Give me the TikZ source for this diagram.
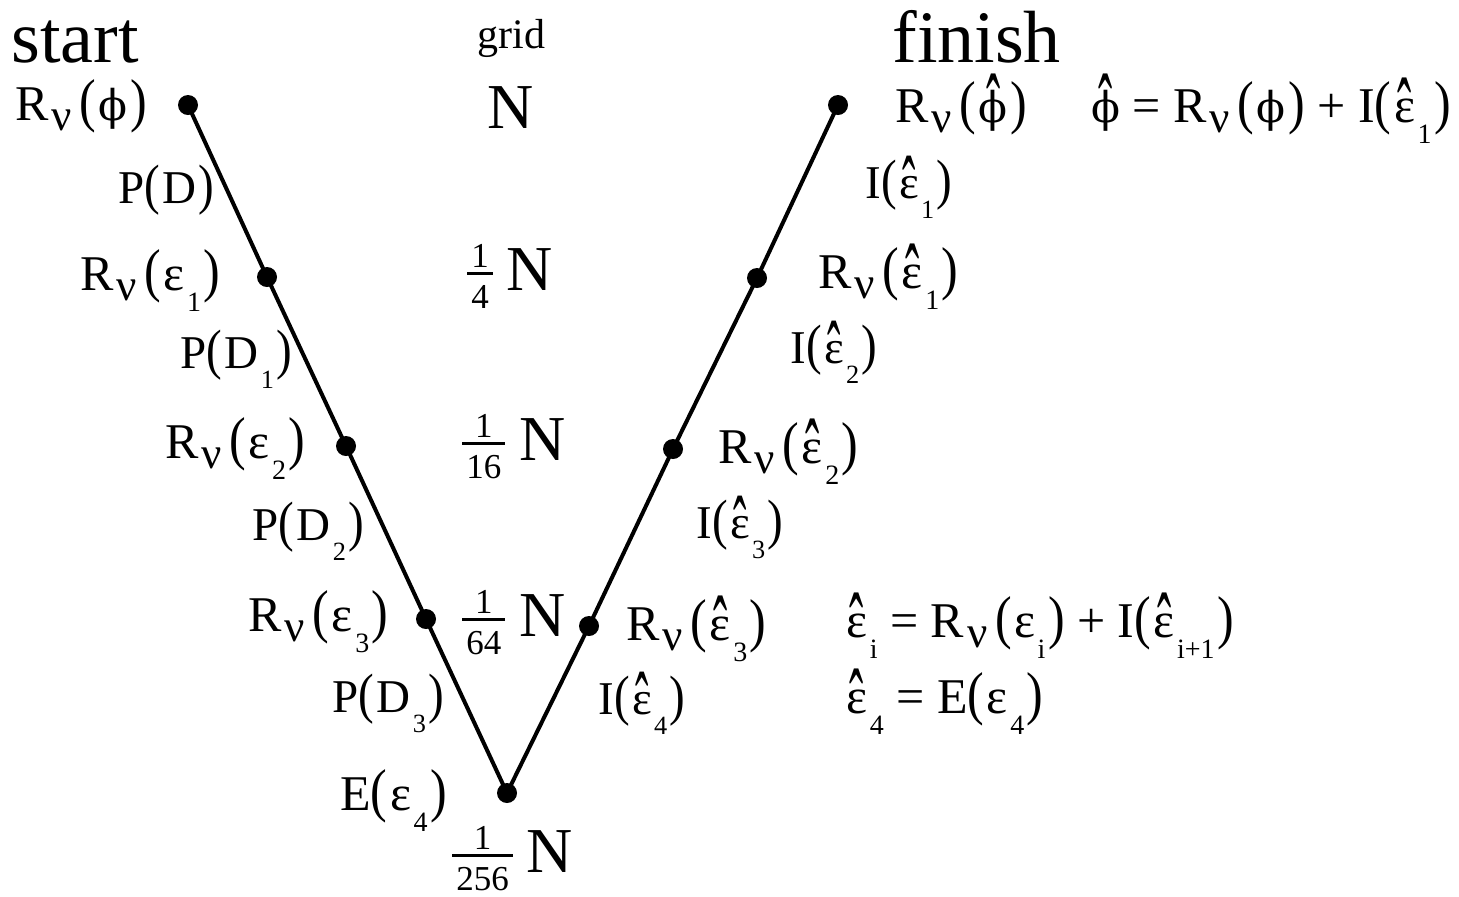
\documentclass[tikz,border=0pt]{standalone}
\usepackage{fontspec}
\setmainfont{Liberation Serif}
\newfontfamily\dvs{DejaVu Serif}
\newcommand\fs[1]{\fontsize{#1pt}{#1pt}\selectfont}
\newbox\hatbx
\newbox\frcnum
\newbox\frcden
\newdimen\frcw
% tall narrow hat at a fixed height above the baseline
\newcommand\hatx[2][0em]{{\setbox\hatbx\hbox{#2}\ooalign{\copy\hatbx\cr\hidewidth\raise\dimexpr#1-0.5em\relax\hbox{\scalebox{0.85}[2]{\char"02C6}}\hidewidth\cr}}}
% stroked phi
\newcommand\vphi{{\dvs\scalebox{0.85}{ϕ}}}
% subscript nu and lowered subscripts
\newcommand\nuu{\kern0.06em\raisebox{-0.2em}{\scalebox{0.9}{ν}}\kern0.15em}
\newcommand\sbs[1]{\kern0.05em\raisebox{-0.43em}{\scalebox{0.56}{#1}}}
\newcommand\lpar{\scalebox{1}[1.18]{(}\kern0.05em}
\newcommand\rpar{\kern0.05em\scalebox{1}[1.18]{)}}
% fraction with text digits
\newcommand\frc[2]{%
 \setbox\frcnum\hbox{\fs{17.5}#1}\setbox\frcden\hbox{\fs{17.5}#2}%
 \frcw=\wd\frcnum \ifdim\wd\frcden>\frcw \frcw=\wd\frcden\fi
 \advance\frcw by 4pt
 \hbox{\rlap{\hbox to\frcw{\hss\raise11.5pt\box\frcnum\hss}}\rlap{\raise7.75pt\hbox{\vrule width\frcw height1.5pt depth0pt}}\hbox to\frcw{\hss\lower9pt\box\frcden\hss}}}
\tikzset{
  lab/.style={inner sep=0pt, anchor=base west, font=\fs{25}},
  sml/.style={inner sep=0pt, anchor=base west, font=\fs{23.5}},
  big/.style={inner sep=0pt, anchor=base west, font=\fs{37}},
  gridn/.style={inner sep=0pt, anchor=base west, font=\fs{32}},
  dot/.style={circle, fill=black, inner sep=0pt, minimum size=10pt},
  vline/.style={line width=2pt, line join=round},
}
\begin{document}
\begin{tikzpicture}[x=0.5pt,y=-0.5pt]
\path[use as bounding box, fill=white] (0,0) rectangle (1459,896);
% titles
\node[big] (start) at (11,62) {start};
\node[inner sep=0pt, anchor=base west, font=\fs{21}] (grid) at (477,48) {grid};
\node[big] (finish) at (892,62) {finish};
% grid sizes
\node[gridn] (g0) at (487,128) {N};
\node[gridn] (g1) at (467,290) {\frc{1}{4}\kern7pt N};
\node[gridn] (g2) at (462,460) {\frc{1}{16}\kern7pt N};
\node[gridn] (g3) at (462,636) {\frc{1}{64}\kern7pt N};
\node[gridn] (g4) at (452,872) {\frc{1}{256}\kern7pt N};
% dots
\node[dot] (d0) at (188,105) {};
\node[dot] (d1) at (267,277) {};
\node[dot] (d2) at (346,446) {};
\node[dot] (d3) at (426,619) {};
\node[dot] (d4) at (507,793) {};
\node[dot] (d5) at (589,626) {};
\node[dot] (d6) at (673,449) {};
\node[dot] (d7) at (757,278) {};
\node[dot] (d8) at (838,105) {};
\draw[vline] (d0.center) -- (d1.center) -- (d2.center) -- (d3.center) -- (d4.center)
  -- (d5.center) -- (d6.center) -- (d7.center) -- (d8.center);
% left branch labels
\node[lab] (Rphi) at (15,120) {R\nuu\lpar\vphi\rpar};
\node[sml] (PD) at (118,203) {P\lpar D\rpar};
\node[lab] (Re1) at (80,290) {R\nuu\lpar ε\sbs{1}\rpar};
\node[sml] (PD1) at (180,368) {P\lpar D\sbs{1}\rpar};
\node[lab] (Re2) at (165,458) {R\nuu\lpar ε\sbs{2}\rpar};
\node[sml] (PD2) at (252,540) {P\lpar D\sbs{2}\rpar};
\node[lab] (Re3) at (248,631) {R\nuu\lpar ε\sbs{3}\rpar};
\node[sml] (PD3) at (332,712) {P\lpar D\sbs{3}\rpar};
\node[lab] (Ee4) at (340,810) {E\lpar ε\sbs{4}\rpar};
% right branch labels
\node[lab] (Rphih) at (895,122) {R\nuu\lpar\hatx[0.08em]{\vphi}\rpar};
\node[lab] (eqphi) at (1091,122) {\hatx[0.08em]{\vphi} = R\nuu\lpar\vphi\rpar\ + I\lpar\hatx{ε}\sbs{1}\rpar};
\node[sml] (Ie1) at (865,198) {I\lpar\hatx{ε}\sbs{1}\rpar};
\node[lab] (Rhe1) at (818,288) {R\nuu\lpar\hatx{ε}\sbs{1}\rpar};
\node[sml] (Ie2) at (790,363) {I\lpar\hatx{ε}\sbs{2}\rpar};
\node[lab] (Rhe2) at (718,463) {R\nuu\lpar\hatx{ε}\sbs{2}\rpar};
\node[sml] (Ie3) at (696,538) {I\lpar\hatx{ε}\sbs{3}\rpar};
\node[lab] (Rhe3) at (626,640) {R\nuu\lpar\hatx{ε}\sbs{3}\rpar};
\node[sml] (Ie4) at (598,714) {I\lpar\hatx{ε}\sbs{4}\rpar};
% equations
\node[lab] (eqi) at (846,637) {\hatx{ε}\sbs{i} = R\nuu\lpar ε\sbs{i}\rpar\ + I\lpar\hatx{ε}\sbs{i+1}\rpar};
\node[lab] (eq4) at (846,713) {\hatx{ε}\sbs{4} = E\lpar ε\sbs{4}\rpar};
\end{tikzpicture}
\end{document}
